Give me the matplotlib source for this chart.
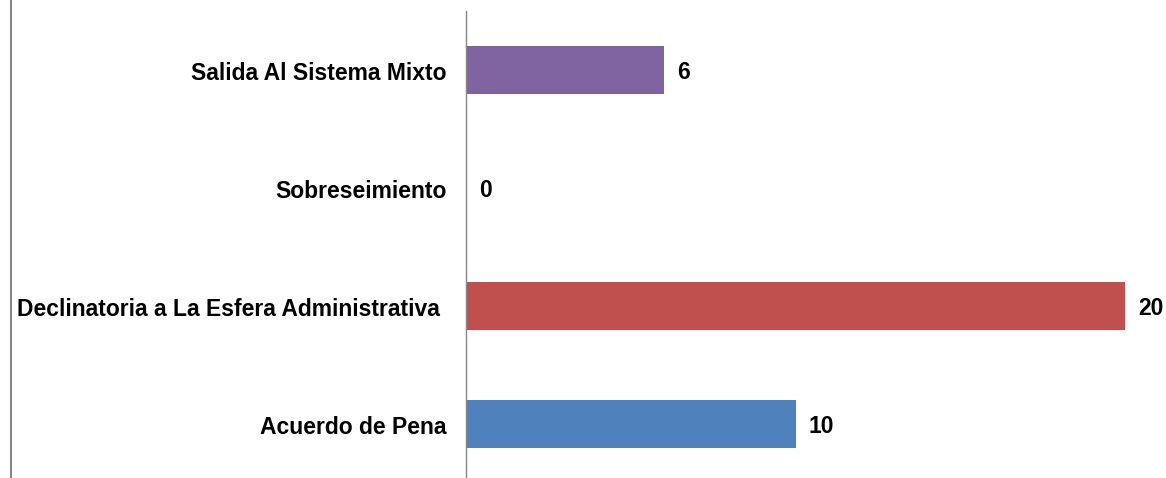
import matplotlib
matplotlib.use("Agg")
import matplotlib.pyplot as plt
import matplotlib.transforms as mtransforms
from matplotlib.lines import Line2D

categories = ["Acuerdo de Pena", "Declinatoria a La Esfera Administrativa ",
              "Sobreseimiento", "Salida Al Sistema Mixto"]
values = [10, 20, 0, 6]
colors = ["#4F81BD", "#C0504D", "#9BBB59", "#8064A2"]

plt.rcParams["font.family"] = ["Liberation Sans", "DejaVu Sans"]

W, H = 1166, 478
fig = plt.figure(figsize=(W / 100, H / 100), dpi=100)
ax = fig.add_axes([466 / W, -5 / H, (W - 466) / W, 472 / H])

y = range(len(categories))
ax.barh(y, values, height=0.41, color=colors)
ax.set_ylim(-0.5, len(categories) - 0.5)
ax.set_xlim(0, (W - 466) / 32.95)

for i, v in enumerate(values):
    ax.annotate(str(v), (v, i), xytext=(9.5, -1.5), textcoords="offset points",
                ha="left", va="center", fontsize=16.5, fontweight="bold")

ax.set_yticks(list(y))
ax.set_yticklabels(categories, fontsize=16.5, fontweight="bold")
ax.tick_params(axis="y", length=0, pad=14)
shift = mtransforms.ScaledTranslation(0, -1 / 72, fig.dpi_scale_trans)
for lbl in ax.get_yticklabels():
    lbl.set_transform(lbl.get_transform() + shift)
ax.set_xticks([])
for s in ["top", "right", "bottom"]:
    ax.spines[s].set_visible(False)
ax.spines["left"].set_color("#868686")
ax.spines["left"].set_linewidth(1.0)

fig.add_artist(Line2D([10.5 / W, 10.5 / W], [0, 1], color="#868686", lw=1.5))

fig.savefig("out.png", dpi=100)
